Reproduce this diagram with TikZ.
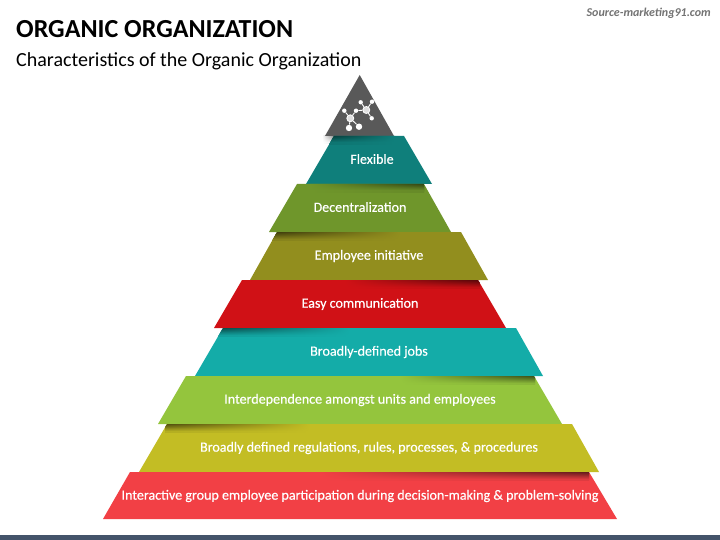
\documentclass[tikz,border=0pt]{standalone}
\usepackage{fontspec}
\setmainfont{Carlito}
\definecolor{cApex}{HTML}{595959}
\definecolor{cFlex}{HTML}{0F7F7B}
\definecolor{cDec}{HTML}{6F962B}
\definecolor{cEmp}{HTML}{928E1E}
\definecolor{cEasy}{HTML}{D01116}
\definecolor{cJobs}{HTML}{14ACA8}
\definecolor{cInter}{HTML}{94C53D}
\definecolor{cRules}{HTML}{C3BD24}
\definecolor{cPart}{HTML}{F24045}
\definecolor{cBar}{HTML}{44546A}
% #1,#2 x range, #3 top y, #4 dark side, #5 light side, #6 base colour, #7 clip path
\newcommand{\bandshadow}[7]{%
  \begin{scope}
    \clip #7;
    \foreach \i in {0,...,7}{%
      \pgfmathtruncatemacro{\p}{100-58*(1-\i/8)}
      \shade[#4 color=#6!\p!black,#5 color=#6] (#1,#3+\i) rectangle (#2,#3+\i+1.2);
    }
  \end{scope}}
\tikzset{
  lbl/.style={text=white,font=\fontsize{14.05}{16}\selectfont\addfontfeature{FakeBold=0.35},inner sep=0pt,anchor=center},
  dot/.style={circle,fill=white,inner sep=0pt,minimum size=4.4pt},
  hub/.style={circle,fill=white!88!black,draw=white,line width=.8pt,inner sep=0pt,minimum size=7pt},
  leaf/.style={circle,fill=white,inner sep=0pt,minimum size=6.4pt},
  link/.style={draw=white,line width=.9pt}
}
\begin{document}
\begin{tikzpicture}[x=1pt,y=-1pt]
\useasboundingbox (0,0) rectangle (720,540);
\fill[white] (0,0) rectangle (720,540);
\fill[cBar] (0,535) rectangle (720,540);
% shadow of the apex on the white ground
\bandshadow{322}{336}{136}{right}{left}{white}{(322,136) rectangle (336,144)}
% bands
\fill[cApex] (359.7,75) -- (394,136) -- (325,136) -- cycle;
\fill[cFlex] (334,136) -- (404,136) -- (432,184) -- (306,184) -- cycle;
\fill[cDec] (297,184) -- (424,184) -- (451,232) -- (269,232) -- cycle;
\fill[cEmp] (277,232) -- (461,232) -- (488,280) -- (250,280) -- cycle;
\fill[cEasy] (242,280) -- (478,280) -- (506,328) -- (214,328) -- cycle;
\fill[cJobs] (223,328) -- (516,328) -- (543,376) -- (195,376) -- cycle;
\fill[cInter] (186,376) -- (534,376) -- (562,424) -- (158,424) -- cycle;
\fill[cRules] (167,424) -- (572,424) -- (599,472) -- (139,472) -- cycle;
\fill[cPart] (130,472) -- (589,472) -- (617,519) -- (103,519) -- cycle;
% shadows
\bandshadow{329}{395}{136}{left}{right}{cFlex}{(334,136) -- (404,136) -- (432,184) -- (306,184) -- cycle}
\bandshadow{310}{424}{184}{right}{left}{cDec}{(297,184) -- (424,184) -- (451,232) -- (269,232) -- cycle}
\bandshadow{272}{400}{232}{left}{right}{cEmp}{(277,232) -- (461,232) -- (488,280) -- (250,280) -- cycle}
\bandshadow{345}{480}{280}{right}{left}{cEasy}{(242,280) -- (478,280) -- (506,328) -- (214,328) -- cycle}
\bandshadow{215}{350}{328}{left}{right}{cJobs}{(223,328) -- (516,328) -- (543,376) -- (195,376) -- cycle}
\bandshadow{400}{535}{376}{right}{left}{cInter}{(186,376) -- (534,376) -- (562,424) -- (158,424) -- cycle}
\bandshadow{165}{310}{424}{left}{right}{cRules}{(167,424) -- (572,424) -- (599,472) -- (139,472) -- cycle}
\bandshadow{320}{589}{472}{right}{left}{cPart}{(130,472) -- (589,472) -- (617,519) -- (103,519) -- cycle}
% labels
\node[lbl] (t1) at (372,159) {Flexible};
\node[lbl] (t2) at (360,207) {Decentralization};
\node[lbl] (t3) at (369,256) {Employee initiative};
\node[lbl] (t4) at (360,304) {Easy communication};
\node[lbl] (t5) at (369,352) {Broadly-defined jobs};
\node[lbl] (t6) at (360,400) {Interdependence amongst units and employees};
\node[lbl] (t7) at (369,448) {Broadly defined regulations, rules, processes, \& procedures};
\node[lbl] (t8) at (360,496) {Interactive group employee participation during decision-making \& problem-solving};
% titles
\node[anchor=west,inner sep=0pt,font=\fontsize{26}{28}\selectfont\bfseries] (title) at (16,29) {ORGANIC ORGANIZATION};
\node[anchor=west,inner sep=0pt,font=\fontsize{20}{22}\selectfont] (sub) at (16,61) {Characteristics of the Organic Organization};
\node[anchor=east,inner sep=0pt,text=black!55,font=\fontsize{12}{14}\selectfont\bfseries\itshape] (src) at (711,13) {Source-marketing91.com};
% icon
\node[hub] (h1) at (350.3,118.3) {};
\node[hub] (h2) at (366.3,110) {};
\node[dot] (n1) at (344.3,110.7) {};
\node[dot] (n2) at (356,110.7) {};
\node[dot] (n3) at (360.7,102.3) {};
\node[dot] (n4) at (372,101.7) {};
\node[dot] (n5) at (371.7,118.3) {};
\node[leaf] (n6) at (349,128) {};
\node[leaf] (n7) at (359,126.7) {};
\draw[link] (h1) -- (n1);
\draw[link] (h1) -- (n2);
\draw[link] (n2) -- (h2);
\draw[link] (h2) -- (n3);
\draw[link] (h2) -- (n4);
\draw[link] (h2) -- (n5);
\draw[link] (h1) -- (n6);
\draw[link] (h1) -- (n7);
\end{tikzpicture}
\end{document}
